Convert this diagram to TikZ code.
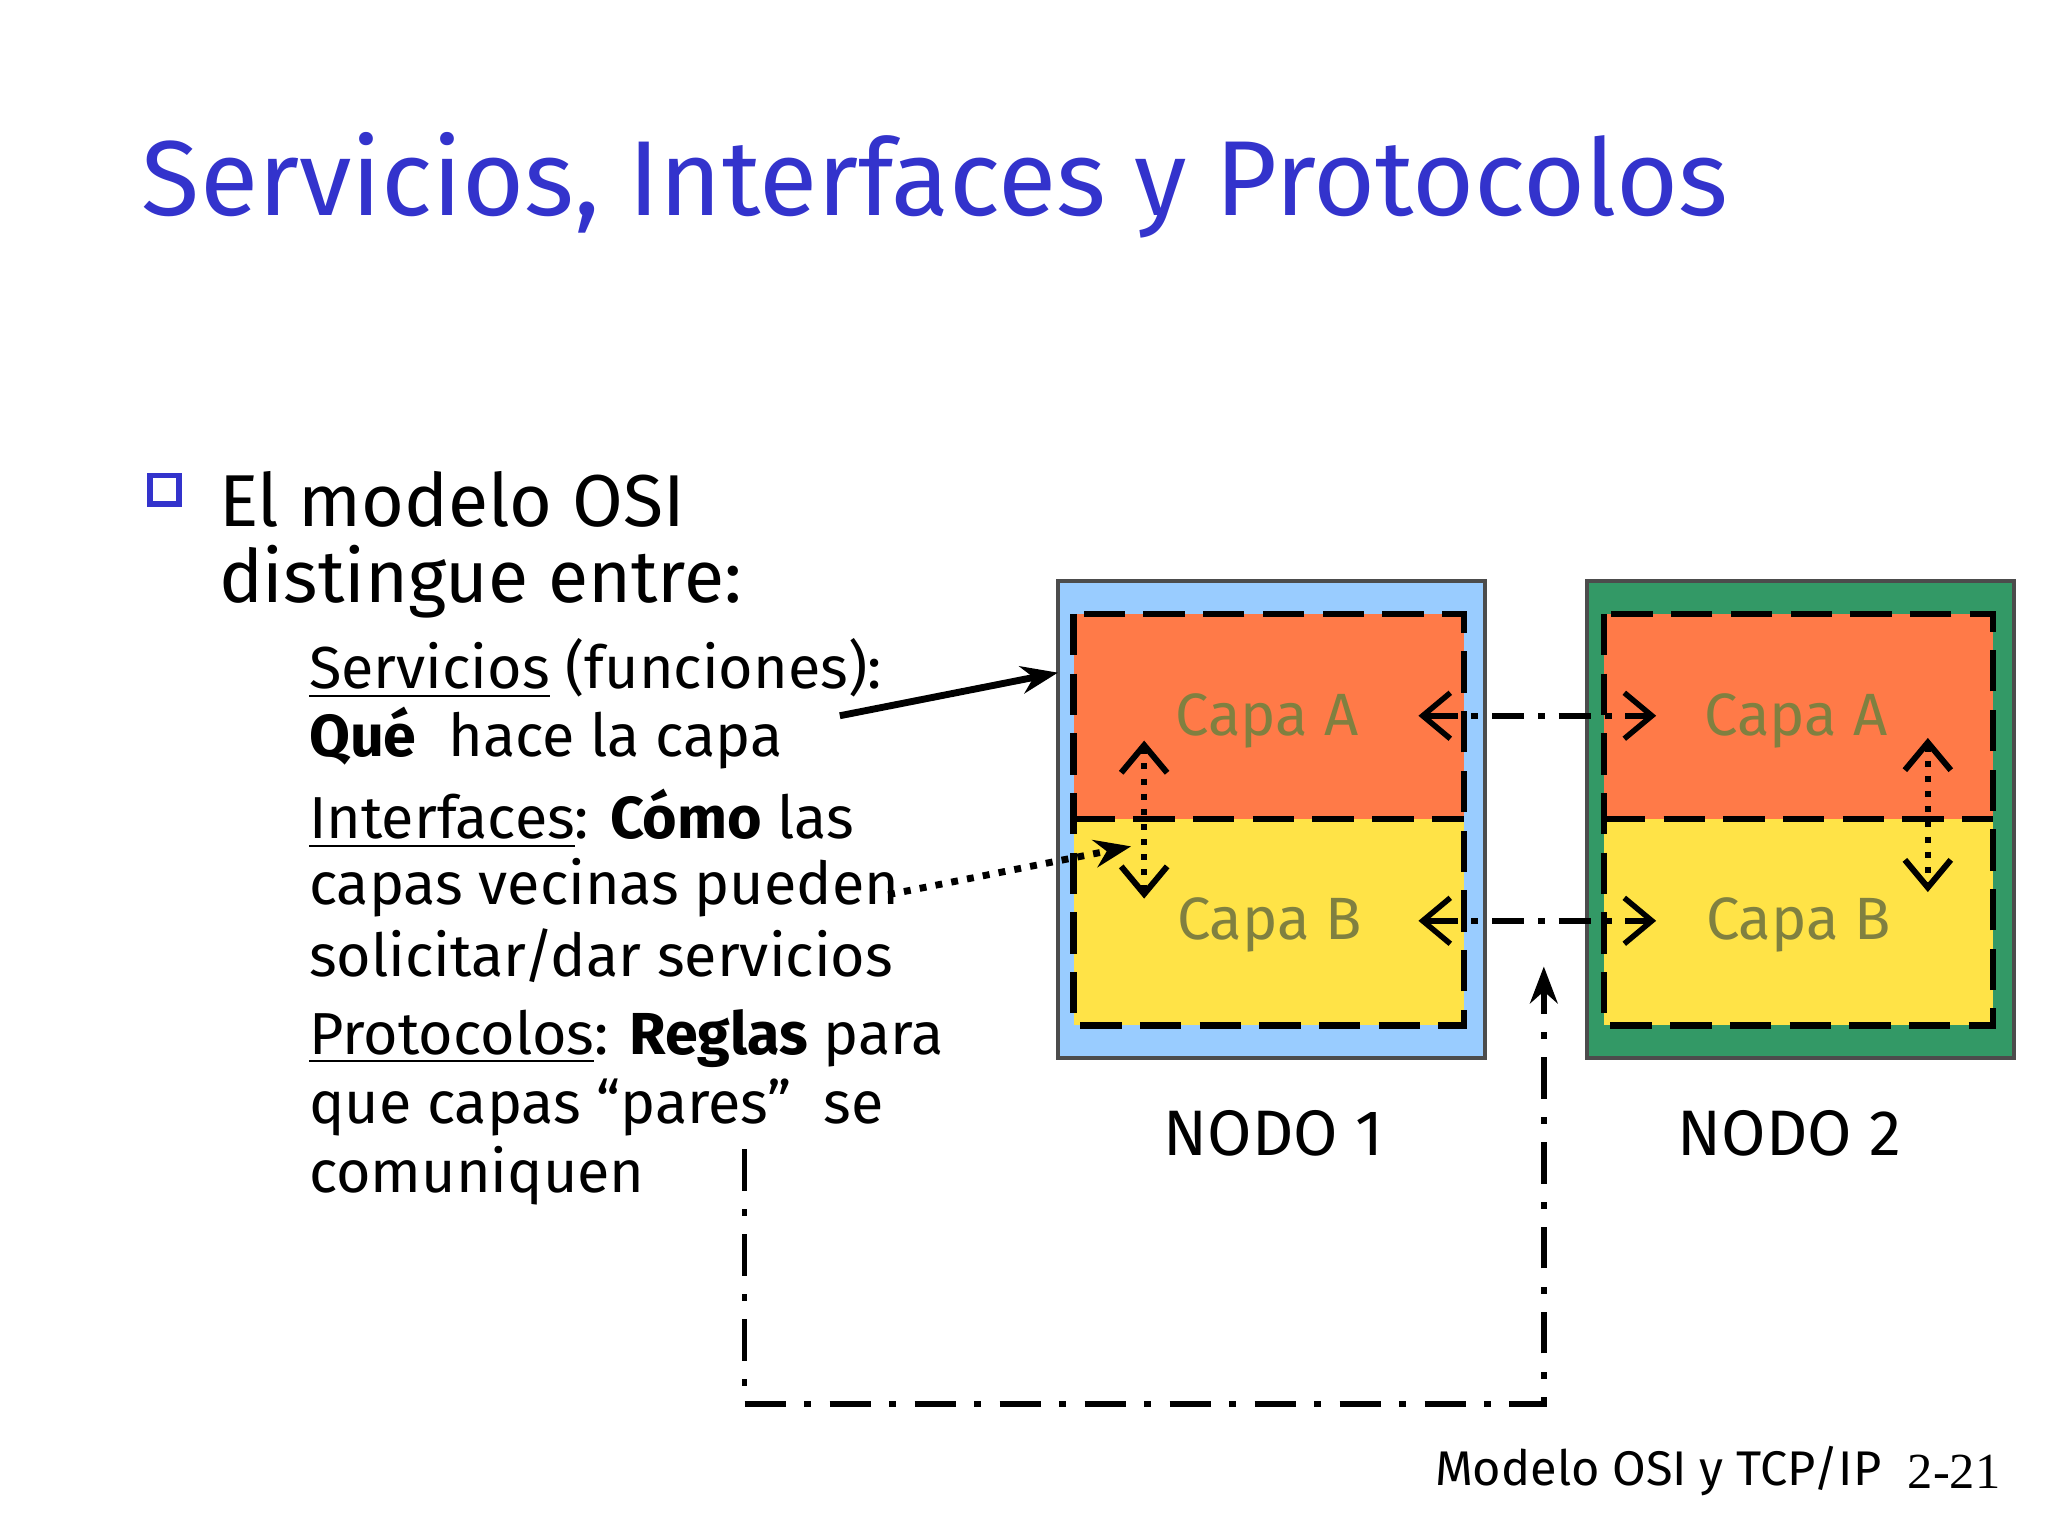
\documentclass[tikz,border=0pt]{standalone}
\usepackage{fontspec}
\setmainfont{Fira Sans}
\newfontfamily\serifft{Liberation Serif}
\usetikzlibrary{arrows.meta}
\definecolor{ttl}{HTML}{3333CC}
\definecolor{nblue}{HTML}{99CCFF}
\definecolor{ngreen}{HTML}{339966}
\definecolor{lorange}{HTML}{FF7A48}
\definecolor{lyellow}{HTML}{FFE347}
\definecolor{olive}{HTML}{808040}
\tikzset{
 outerbox/.style={draw=black!70,line width=0.8pt},
 layerbox/.style={draw=black,line width=1.4pt,dash pattern=on 9pt off 4pt},
 capa/.style={text=olive,font=\fontsize{13}{16}\selectfont},
 body/.style={anchor=west,font=\fontsize{12.9}{15}\selectfont,inner sep=0pt},
 peer/.style={line width=1.2pt,dash pattern=on 7pt off 3pt on 1.5pt off 3pt,{Straight Barb[length=6pt,width=10pt]}-{Straight Barb[length=6pt,width=10pt]}},
 iface/.style={line width=1.3pt,dotted,{Straight Barb[length=6pt,width=10pt]}-{Straight Barb[length=6pt,width=10pt]}},
}
\begin{document}
\begin{tikzpicture}[x=0.01cm,y=-0.01cm]
\useasboundingbox (0,0) rectangle (1568,1176);
\node[anchor=west,text=ttl,font=\fontsize{23.2}{27}\selectfont,inner sep=0pt] (title) at (108,142) {Servicios, Interfaces y Protocolos};
\node[draw=ttl,line width=1.2pt,minimum size=0.22cm,inner sep=0pt] (bul) at (126,375) {};
\node[body,font=\fontsize{16}{19}\selectfont] (l1) at (167,382) {El modelo OSI};
\node[body,font=\fontsize{16}{19}\selectfont] (l2) at (167,445) {distingue entre:};
\node[body] (s1) at (236,512) {\underline{Servicios} (funciones):};
\node[body] (s2) at (236,565) {\textbf{Qué}\; hace la capa};
\node[body] (s3) at (236,627) {\underline{Interfaces}: \textbf{Cómo} las};
\node[body] (s4) at (236,680) {capas vecinas pueden};
\node[body] (s5) at (236,732) {solicitar/dar servicios};
\node[body] (s6) at (236,795) {\underline{Protocolos}: \textbf{Reglas} para};
\node[body] (s7) at (236,848) {que capas “pares”\; se};
\node[body] (s8) at (236,900) {comuniquen};
% node 1
\fill[nblue] (810,445) rectangle (1137,810);
\draw[outerbox] (810,445) rectangle (1137,810);
\fill[lorange] (822,470) rectangle (1121,627);
\fill[lyellow] (822,627) rectangle (1121,785);
\draw[layerbox] (822,470) rectangle (1121,785);
\draw[layerbox] (822,627) -- (1121,627);
% node 2
\fill[ngreen] (1215,445) rectangle (1542,810);
\draw[outerbox] (1215,445) rectangle (1542,810);
\fill[lorange] (1228,470) rectangle (1526,627);
\fill[lyellow] (1228,627) rectangle (1526,785);
\draw[layerbox] (1228,470) rectangle (1526,785);
\draw[layerbox] (1228,627) -- (1526,627);
\node[capa] (a1) at (970,552) {Capa A};
\node[capa] (b1) at (972,708) {Capa B};
\node[capa] (a2) at (1375,552) {Capa A};
\node[capa] (b2) at (1377,708) {Capa B};
\coordinate (pa1) at (1086,548); \coordinate (pa2) at (1268,548);
\coordinate (pb1) at (1086,705); \coordinate (pb2) at (1268,705);
\draw[peer] (pa1) -- (pa2);
\draw[peer] (pb1) -- (pb2);
\coordinate (i1t) at (876,567); \coordinate (i1b) at (876,688);
\coordinate (i2t) at (1476,565); \coordinate (i2b) at (1476,683);
\draw[iface] (i1t) -- (i1b);
\draw[iface] (i2t) -- (i2b);
\node[font=\fontsize{14}{17}\selectfont] (n1) at (975,868) {NODO 1};
\node[font=\fontsize{14}{17}\selectfont] (n2) at (1370,868) {NODO 2};
% annotation arrows
\coordinate (sa) at (643,548); \coordinate (sb) at (810,515);
\draw[line width=1.5pt,-{Stealth[length=8pt]}] (sa) -- (sb);
\coordinate (ia) at (680,685); \coordinate (ib) at (866,648);
\draw[line width=1.5pt,dotted,-{Stealth[length=8pt]}] (ia) -- (ib);
\coordinate (pr0) at (570,880); \coordinate (pr1) at (570,1075); \coordinate (pr2) at (1182,1075); \coordinate (pr3) at (1182,740);
\draw[line width=1.3pt,dash pattern=on 9pt off 4pt on 1.5pt off 4pt,-{Stealth[length=8pt]}] (pr0) -- (pr1) -- (pr2) -- (pr3);
\node[anchor=west,font=\fontsize{10.6}{13}\selectfont,inner sep=0pt] (foot) at (1098,1126) {Modelo OSI y TCP/IP};
\node[anchor=west,font=\serifft\fontsize{11}{13}\selectfont,inner sep=0pt] (pg) at (1460,1127) {2-21};
\end{tikzpicture}
\end{document}
